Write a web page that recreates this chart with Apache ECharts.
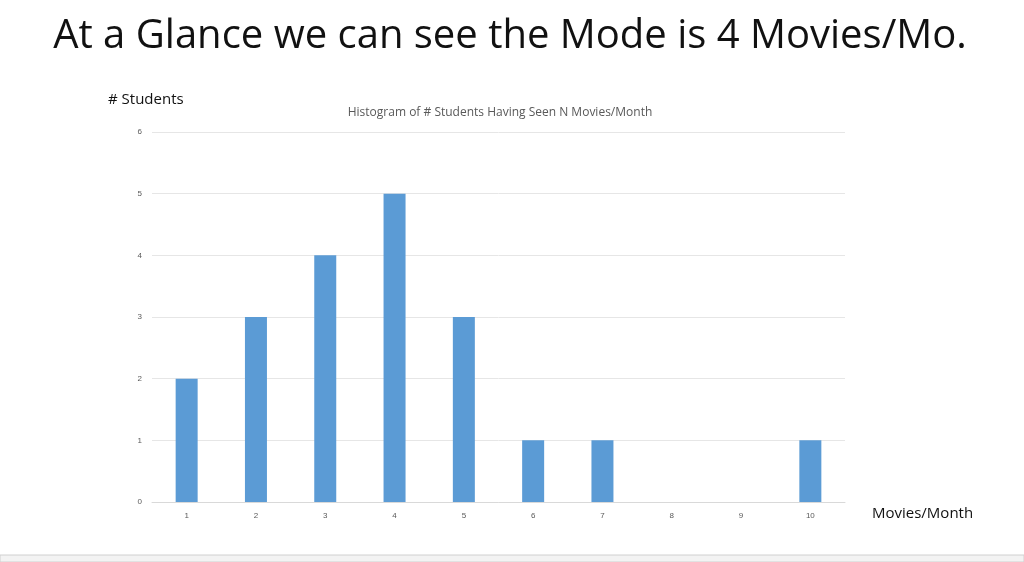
<!DOCTYPE html>
<html>
<head>
<meta charset="utf-8">
<script src="https://cdn.jsdelivr.net/npm/echarts@6/dist/echarts.min.js"></script>
<style>
  html, body { margin: 0; padding: 0; background: #fff; }
  #chart { width: 1024px; height: 562px; }
</style>
</head>
<body>
<div id="chart"></div>
<script>
// Movies seen per month vs number of students
var categories = ['1', '2', '3', '4', '5', '6', '7', '8', '9', '10'];
var studentCounts = [2, 3, 4, 5, 3, 1, 1, 0, 0, 1];

var chart = echarts.init(document.getElementById('chart'), null, { renderer: 'canvas' });

chart.setOption({
    animation: false,
    title: [
        {
            text: 'At a Glance we can see the Mode is 4 Movies/Mo.',
            left: 505, top: 12, textAlign: 'center',
            textStyle: { fontFamily: 'Open Sans', fontSize: 40, fontWeight: 'normal', color: '#111' }
        },
        {
            text: 'Histogram of # Students Having Seen N Movies/Month',
            left: 495, top: 102, textAlign: 'center',
            textStyle: { fontFamily: 'Open Sans', fontSize: 12, fontWeight: 'normal', color: '#595959' }
        }
    ],
    graphic: [
        { type: 'text', left: 108, top: 92, style: { text: '# Students', font: '15px "Open Sans"', fill: '#111' } },
        { type: 'text', left: 872, top: 506, style: { text: 'Movies/Month', font: '15px "Open Sans"', fill: '#111' } },
        { type: 'rect', shape: { x: 0, y: 555, width: 1024, height: 7 }, style: { fill: '#f3f3f3', stroke: '#d0d0d0', lineWidth: 1 } }
    ],
    grid: { left: 152, right: 179, top: 132, bottom: 60 },
    xAxis: {
        type: 'category',
        data: categories,
        axisLine: { lineStyle: { color: '#d9d9d9' } },
        axisTick: { show: false },
        axisLabel: { color: '#595959', fontSize: 8, margin: 10 }
    },
    yAxis: {
        type: 'value',
        min: 0, max: 6, interval: 1,
        axisLine: { show: false },
        axisTick: { show: false },
        splitLine: { lineStyle: { color: '#e6e6e6' } },
        axisLabel: { color: '#595959', fontSize: 8, margin: 10 }
    },
    series: [{
        type: 'bar',
        data: studentCounts,
        barWidth: 22,
        itemStyle: { color: '#5b9bd5' }
    }]
});
</script>
</body>
</html>
